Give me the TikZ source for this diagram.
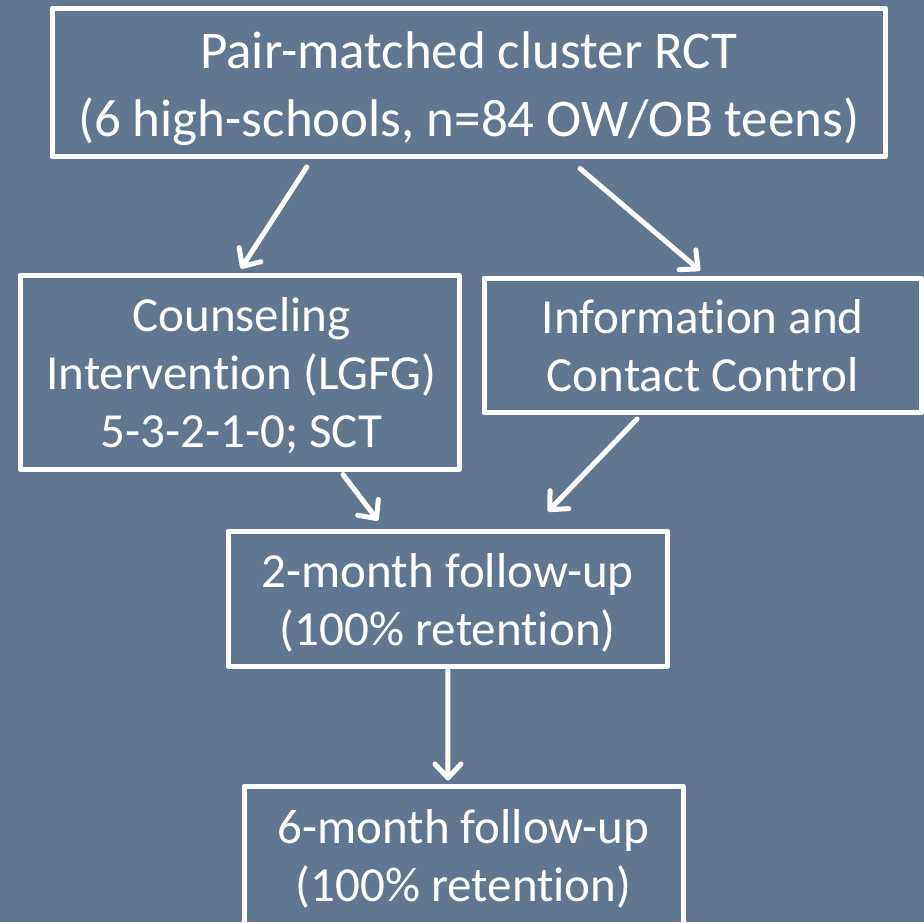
\documentclass[tikz,border=0pt]{standalone}
\usepackage{fontspec}
\setmainfont{Carlito}[Ligatures=NoCommon]
\usetikzlibrary{arrows.meta,calc}
\definecolor{bgc}{RGB}{96,119,143}
\tikzset{
  box/.style={draw=white, line width=5pt, line join=round, inner sep=0pt},
  txt/.style={inner sep=0pt, align=center, text=white},
  bigtxt/.style={txt, font=\fontsize{53}{68}\selectfont},
  midtxt/.style={txt, font=\fontsize{49}{58}\selectfont},
  arr/.style={draw=white, line width=5pt, line cap=round, -{Straight Barb[length=14pt,width=26pt,line cap=round,line join=round]}}
}
\begin{document}
\begin{tikzpicture}[x=1pt,y=-1pt]
\useasboundingbox (0,0) rectangle (924,922);
\fill[bgc] (0,0) rectangle (924,922);
\clip (0,0) rectangle (924,922);
\node[box,minimum width=833.5pt,minimum height=148pt] (top) at (468.75,82.5) {};
\node[box,minimum width=439pt,minimum height=193.5pt] (left) at (239.5,372.25) {};
\node[box,minimum width=437.5pt,minimum height=134.5pt] (right) at (702.75,345.25) {};
\node[box,minimum width=439.5pt,minimum height=134.5pt] (mid) at (447.75,598.75) {};
\node[box,minimum width=439pt,minimum height=138.5pt] (bot) at (463.5,855.75) {};
\node[bigtxt] (topT) at ($(top.center)+(0,6)$) {Pair-matched cluster RCT\\(6 high-schools, n=84 OW/OB teens)};
\node[midtxt] (leftT) at ($(left.center)+(2,3)$) {Counseling\\Intervention (LGFG)\\5-3-2-1-0; SCT};
\node[midtxt] (rightT) at ($(right.center)+(0,0.5)$) {Information and\\Contact Control};
\node[midtxt] (midT) at ($(mid.center)+(0,4)$) {2-month follow-up\\(100\% retention)};
\node[midtxt] (botT) at ($(bot.center)+(0,3)$) {6-month follow-up\\(100\% retention)};
\draw[arr] ($(top.south)+(-162,8)$) -- ($(left.north)+(1.5,-4.5)$);
\draw[arr] ($(top.south)+(111.3,9.5)$) -- ($(right.north)+(-2.75,-5)$);
\draw[arr] ($(left.south)+(103.5,3)$) -- ($(mid.north)+(-69.75,-8.5)$);
\draw[arr] ($(right.south)+(-65.75,4)$) -- ($(mid.north)+(100.25,-17.5)$);
\draw[arr] ($(mid.south)+(0,2)$) -- ($(bot.north)+(-15.5,-3.5)$);
\end{tikzpicture}
\end{document}
